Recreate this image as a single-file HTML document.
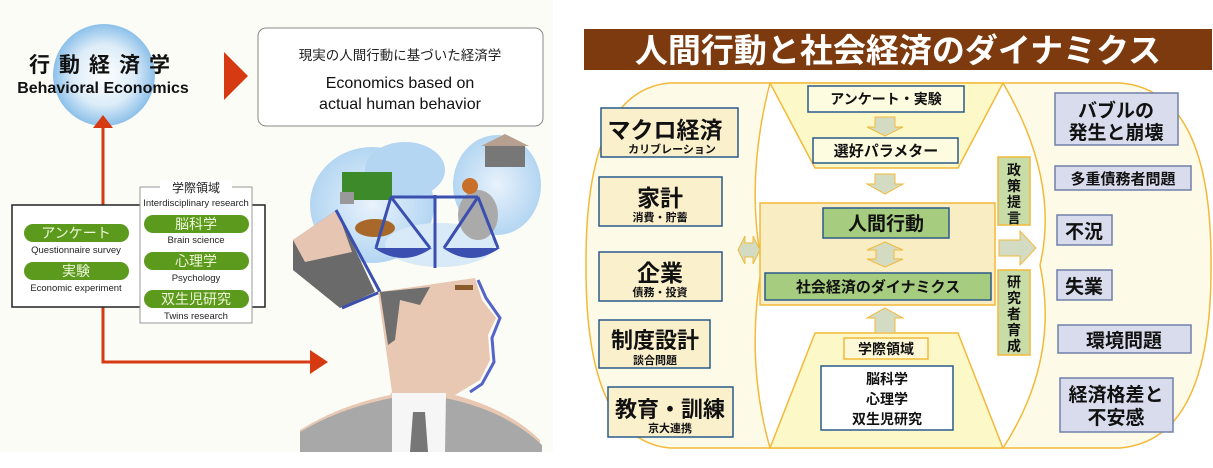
<!DOCTYPE html>
<html><head><meta charset="utf-8"><style>
html,body{margin:0;padding:0;background:#fff;}
svg{display:block;}
text{font-family:"Liberation Sans","Noto Sans CJK JP",sans-serif;}
</style></head><body>
<svg width="1213" height="468" viewBox="0 0 1213 468" xmlns="http://www.w3.org/2000/svg">
<defs>
<radialGradient id="cg" cx="50%" cy="50%" r="50%">
<stop offset="0" stop-color="#ffffff"/><stop offset="0.6" stop-color="#dcecf8"/><stop offset="1" stop-color="#8cc0ea"/>
</radialGradient>
<radialGradient id="cl" cx="50%" cy="50%" r="60%">
<stop offset="0" stop-color="#e8f2fb"/><stop offset="1" stop-color="#a9d0f0"/>
</radialGradient>
</defs>
<!-- LEFT PANEL -->
<rect x="0" y="0" width="553" height="452" fill="#fcfcf6"/>
<circle cx="104" cy="75" r="51" fill="url(#cg)"/>
<text x="104" y="72" font-size="21" font-weight="bold" text-anchor="middle" letter-spacing="9" fill="#111">行動経済学</text>
<text x="103" y="93" font-size="16" font-weight="bold" text-anchor="middle" fill="#111">Behavioral Economics</text>
<polygon points="224,52 248,76 224,100" fill="#d63a12"/>
<rect x="258" y="28" width="285" height="98" rx="8" fill="#fff" stroke="#888" stroke-width="1"/>
<text x="400" y="60" font-size="13.5" text-anchor="middle" fill="#222">現実の人間行動に基づいた経済学</text>
<text x="400" y="88" font-size="16" text-anchor="middle" fill="#111">Economics based on</text>
<text x="400" y="109" font-size="16" text-anchor="middle" fill="#111">actual human behavior</text>
<line x1="103" y1="205" x2="103" y2="128" stroke="#d63a12" stroke-width="3"/>
<polygon points="93,128 113,128 103,115" fill="#d63a12"/>
<polyline points="103,307 103,362 312,362" fill="none" stroke="#d63a12" stroke-width="3"/>
<polygon points="310,350 328,362 310,374" fill="#d63a12"/>
<rect x="12" y="205" width="253" height="102" fill="#fff" stroke="#222" stroke-width="1.5"/>
<rect x="140" y="187" width="112" height="136" fill="#fff" stroke="#999" stroke-width="1"/>
<rect x="160" y="180" width="72" height="14" fill="#fff"/>
<text x="196" y="192" font-size="12" text-anchor="middle" fill="#222">学際領域</text>
<text x="196" y="206" font-size="9.5" text-anchor="middle" fill="#222">Interdisciplinary research</text>
<g fill="#5c9a1e">
<rect x="24" y="224" width="105" height="18" rx="9"/>
<rect x="24" y="262" width="105" height="18" rx="9"/>
<rect x="144" y="215" width="105" height="18" rx="9"/>
<rect x="144" y="252" width="105" height="18" rx="9"/>
<rect x="144" y="290" width="105" height="18" rx="9"/>
</g>
<g fill="#eef6d8" font-size="14" text-anchor="middle">
<text x="76" y="238">アンケート</text>
<text x="76" y="276">実験</text>
<text x="196" y="229">脳科学</text>
<text x="196" y="266">心理学</text>
<text x="196" y="304">双生児研究</text>
</g>
<g fill="#222" font-size="9.5" text-anchor="middle">
<text x="76" y="253">Questionnaire survey</text>
<text x="76" y="291">Economic experiment</text>
<text x="196" y="243">Brain science</text>
<text x="196" y="281">Psychology</text>
<text x="196" y="319">Twins research</text>
</g>
<!-- head illustration -->
<ellipse cx="372" cy="205" rx="62" ry="58" fill="url(#cl)"/>
<ellipse cx="405" cy="170" rx="40" ry="28" fill="#b4d6f2"/>
<ellipse cx="497" cy="185" rx="44" ry="50" fill="url(#cl)"/>
<ellipse cx="440" cy="245" rx="55" ry="22" fill="#d8e9f8"/>
<rect x="342" y="172" width="50" height="28" fill="#3c8a2a"/>
<rect x="340" y="192" width="14" height="12" fill="#999"/>
<ellipse cx="375" cy="228" rx="20" ry="9" fill="#a8682a"/>
<rect x="485" y="145" width="40" height="22" fill="#777"/>
<polygon points="481,146 505,134 529,146" fill="#b8a090"/>
<ellipse cx="478" cy="215" rx="20" ry="25" fill="#aaa"/>
<circle cx="470" cy="186" r="8" fill="#c8702a"/>
<g stroke="#3a4fb0" stroke-width="3" fill="none">
<line x1="391" y1="197" x2="478" y2="197"/>
<line x1="435" y1="195" x2="435" y2="268"/>
<line x1="391" y1="197" x2="376" y2="248"/><line x1="391" y1="197" x2="430" y2="248"/>
<line x1="478" y1="197" x2="444" y2="248"/><line x1="478" y1="197" x2="498" y2="248"/>
</g>
<path d="M374,248 L432,248 Q403,268 374,248Z" fill="#3a4fb0"/>
<path d="M443,248 L500,248 Q471,268 443,248Z" fill="#3a4fb0"/>
<polygon points="293,240 337,210 375,292 340,308 293,270" fill="#6a6a6a"/>
<polygon points="293,240 337,210 352,252 305,262" fill="#e6c6b2"/>
<polyline points="336,210 380,292 342,308" fill="none" stroke="#3a4fb0" stroke-width="3"/>
<path d="M300,452 L300,430 Q340,405 390,395 L392,392 L378,292 L475,278 L482,300 L496,318 L488,335 L490,360 L480,380 L455,395 Q510,410 540,440 L540,452Z" fill="#e8c8b2"/>
<path d="M380,292 L430,287 L420,305 L400,300 L395,340 L388,345Z" fill="#6e6e6e"/>
<path d="M478,280 L486,298 L500,318 L492,338 L494,362 L482,384 L470,392" fill="none" stroke="#5464c8" stroke-width="3"/>
<rect x="455" y="285" width="18" height="5" fill="#8a5a2a"/>
<path d="M300,452 L300,432 Q340,408 392,398 L418,440 L445,398 Q505,410 542,445 L542,452Z" fill="#a8a8a8"/>
<polygon points="392,393 446,393 445,452 392,452" fill="#f6f6f6"/>
<polygon points="413,412 425,412 428,452 410,452" fill="#777"/>
<!-- RIGHT PANEL -->
<rect x="584" y="29" width="628" height="41" fill="#7d3a0e"/>
<text x="898" y="62" font-size="33" font-weight="bold" text-anchor="middle" fill="#fff">人間行動と社会経済のダイナミクス</text>
<path d="M670,83 L1120,83 Q1212,90 1211,265 Q1212,440 1120,448 L670,448 Q585,440 586,265 Q585,90 670,83Z" fill="#fdfbe8" stroke="#f2b93a" stroke-width="1.5"/>
<path d="M770,83 L1003,83 Q1060,180 1040,265 Q1060,360 1003,448 L770,448 Q745,360 762,265 Q745,180 770,83Z" fill="#fff"/>
<path d="M770,83 Q745,180 762,265 Q745,360 770,448" fill="none" stroke="#f2b93a" stroke-width="1.5"/>
<path d="M1003,83 Q1060,180 1040,265 Q1060,360 1003,448" fill="none" stroke="#f2b93a" stroke-width="1.5"/>
<polygon points="770,83 1003,83 958,168 815,168" fill="#fdf8c8" stroke="#f2b93a" stroke-width="1.5"/>
<polygon points="815,333 958,333 1003,448 770,448" fill="#fdf8c8" stroke="#f2b93a" stroke-width="1.5"/>
<g stroke="#2a5a8a" stroke-width="1.5">
<rect x="808" y="86" width="156" height="26" fill="#fdfbe0"/>
<rect x="813" y="138" width="145" height="25" fill="#fdfbe0"/>
</g>
<g fill="#111" font-size="14" font-weight="bold" text-anchor="middle">
<text x="886" y="104">アンケート・実験</text>
<text x="886" y="156" font-size="15">選好パラメター</text>
</g>
<g fill="#d3dcc2" stroke="#f2b93a" stroke-width="1">
<polygon points="875,117 895,117 895,127 903,127 885,136 867,127 875,127"/>
<polygon points="875,174 895,174 895,184 903,184 885,194 867,184 875,184"/>
<polygon points="875,333 895,333 895,318 903,318 885,308 867,318 875,318"/>
<polygon points="738,250 745,236 745,243 753,243 753,236 760,250 753,264 753,257 745,257 745,264"/>
<polygon points="999,240 1020,240 1020,231 1036,248 1020,265 1020,256 999,256"/>
</g>
<rect x="760" y="203" width="235" height="102" fill="#f9edc4" stroke="#f2b93a" stroke-width="1.5"/>
<polygon points="885,242 903,250 894,250 894,259 903,259 885,267 867,259 876,259 876,250 867,250" fill="#d3dcc2" stroke="#f2b93a" stroke-width="1"/>
<rect x="823" y="208" width="126" height="30" fill="#a6cc80" stroke="#2a5a8a" stroke-width="1.5"/>
<text x="886" y="230" font-size="19" font-weight="bold" text-anchor="middle" fill="#111">人間行動</text>
<rect x="765" y="273" width="226" height="27" fill="#a6cc80" stroke="#2a5a8a" stroke-width="1.5"/>
<text x="878" y="292" font-size="15" font-weight="bold" text-anchor="middle" fill="#111">社会経済のダイナミクス</text>
<rect x="844" y="338" width="84" height="21" fill="#fdf8d8" stroke="#f2b93a" stroke-width="1.5"/>
<text x="886" y="354" font-size="14" font-weight="bold" text-anchor="middle" fill="#111">学際領域</text>
<rect x="821" y="366" width="132" height="64" fill="#fff" stroke="#2a5a8a" stroke-width="1.5"/>
<g fill="#111" font-size="14" font-weight="bold" text-anchor="middle">
<text x="887" y="384">脳科学</text><text x="887" y="404">心理学</text><text x="887" y="424">双生児研究</text>
</g>
<rect x="998" y="157" width="32" height="68" fill="#c8dca8" stroke="#f2b93a" stroke-width="1.5"/>
<rect x="998" y="270" width="32" height="85" fill="#c8dca8" stroke="#f2b93a" stroke-width="1.5"/>
<g fill="#111" font-size="14" font-weight="bold" text-anchor="middle">
<text x="1014" y="175">政</text><text x="1014" y="191">策</text><text x="1014" y="207">提</text><text x="1014" y="223">言</text>
<text x="1014" y="287">研</text><text x="1014" y="303">究</text><text x="1014" y="319">者</text><text x="1014" y="335">育</text><text x="1014" y="351">成</text>
</g>
<g fill="#fbf0cc" stroke="#2a5a8a" stroke-width="1.5">
<rect x="601" y="108" width="137" height="49"/>
<rect x="599" y="177" width="123" height="49"/>
<rect x="599" y="252" width="123" height="49"/>
<rect x="599" y="320" width="111" height="48"/>
<rect x="608" y="387" width="125" height="50"/>
</g>
<g fill="#111" font-weight="bold" text-anchor="middle">
<text x="665" y="138" font-size="23">マクロ経済</text>
<text x="672" y="153" font-size="11">カリブレーション</text>
<text x="660" y="206" font-size="23">家計</text>
<text x="660" y="221" font-size="11">消費・貯蓄</text>
<text x="660" y="281" font-size="23">企業</text>
<text x="660" y="296" font-size="11">債務・投資</text>
<text x="655" y="348" font-size="22">制度設計</text>
<text x="655" y="364" font-size="11">談合問題</text>
<text x="670" y="417" font-size="22">教育・訓練</text>
<text x="670" y="432" font-size="11">京大連携</text>
</g>
<g fill="#d8dcec" stroke="#7080a8" stroke-width="1.5">
<rect x="1055" y="93" width="123" height="52"/>
<rect x="1055" y="166" width="136" height="24"/>
<rect x="1057" y="215" width="55" height="30"/>
<rect x="1057" y="270" width="55" height="30"/>
<rect x="1058" y="325" width="133" height="28"/>
<rect x="1060" y="378" width="113" height="54"/>
</g>
<g fill="#111" font-weight="bold" text-anchor="middle" font-size="19">
<text x="1116" y="117">バブルの</text>
<text x="1116" y="139">発生と崩壊</text>
<text x="1123" y="184" font-size="15">多重債務者問題</text>
<text x="1084" y="238">不況</text>
<text x="1084" y="293">失業</text>
<text x="1124" y="347">環境問題</text>
<text x="1116" y="401">経済格差と</text>
<text x="1116" y="424">不安感</text>
</g>
</svg>
</body></html>
